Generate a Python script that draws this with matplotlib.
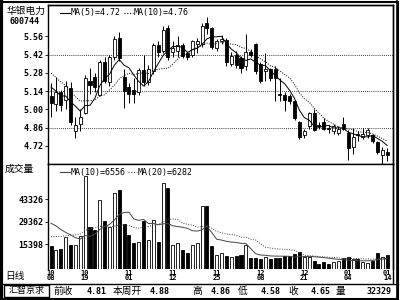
import matplotlib
matplotlib.use('Agg')
import matplotlib.pyplot as plt
import matplotlib.transforms as mtransforms
import numpy as np
import pandas as pd

# 华银电力 600744, daily bars 2010-10-08 .. 2011-01-14
opens = [5.10, 5.04, 5.13, 5.07, 5.16, 4.83, 4.89, 4.97, 5.22, 5.25,
         5.11, 5.36, 5.21, 5.40, 5.55, 5.25, 5.17, 5.15, 5.13, 5.30,
         5.21, 5.29, 5.49, 5.45, 5.62, 5.44, 5.45, 5.49, 5.43, 5.42,
         5.50, 5.50, 5.66, 5.62, 5.47, 5.52, 5.53, 5.35, 5.42, 5.39,
         5.33, 5.44, 5.50, 5.35, 5.29, 5.31, 5.31, 5.12, 5.11, 5.10,
         5.06, 4.90, 4.80, 4.87, 4.97, 4.88, 4.90, 4.86, 4.83, 4.82,
         4.89, 4.82, 4.71, 4.81, 4.79, 4.80, 4.80, 4.75, 4.65, 4.67]
highs = [5.20, 5.25, 5.15, 5.22, 5.21, 4.94, 5.00, 5.26, 5.32, 5.28,
         5.38, 5.40, 5.42, 5.56, 5.59, 5.31, 5.20, 5.24, 5.32, 5.42,
         5.34, 5.51, 5.52, 5.64, 5.65, 5.52, 5.56, 5.51, 5.45, 5.53,
         5.55, 5.66, 5.71, 5.63, 5.54, 5.57, 5.55, 5.44, 5.45, 5.41,
         5.58, 5.46, 5.51, 5.36, 5.43, 5.32, 5.33, 5.24, 5.13, 5.12,
         5.07, 4.91, 4.85, 4.98, 5.00, 4.90, 4.93, 4.88, 4.89, 4.87,
         4.94, 4.84, 4.86, 4.83, 4.86, 4.86, 4.81, 4.76, 4.71, 4.70]
lows = [4.94, 4.99, 4.99, 5.00, 4.88, 4.78, 4.83, 4.96, 5.12, 5.13,
        5.10, 5.20, 5.18, 5.38, 5.37, 5.01, 5.05, 5.05, 5.11, 5.18,
        5.19, 5.27, 5.40, 5.43, 5.38, 5.40, 5.40, 5.39, 5.38, 5.40,
        5.43, 5.48, 5.58, 5.46, 5.45, 5.50, 5.33, 5.33, 5.32, 5.28,
        5.30, 5.40, 5.27, 5.20, 5.22, 5.22, 5.06, 5.06, 4.99, 5.04,
        4.92, 4.77, 4.78, 4.85, 4.83, 4.85, 4.84, 4.82, 4.81, 4.80,
        4.84, 4.61, 4.66, 4.76, 4.77, 4.78, 4.74, 4.66, 4.58, 4.60]
closes = [5.05, 5.13, 5.03, 5.18, 4.90, 4.88, 4.94, 5.24, 5.19, 5.17,
          5.36, 5.22, 5.40, 5.54, 5.39, 5.14, 5.12, 5.12, 5.30, 5.21,
          5.31, 5.49, 5.44, 5.61, 5.40, 5.47, 5.49, 5.41, 5.40, 5.52,
          5.52, 5.64, 5.62, 5.48, 5.52, 5.54, 5.36, 5.41, 5.34, 5.32,
          5.44, 5.42, 5.29, 5.22, 5.31, 5.24, 5.24, 5.11, 5.07, 5.06,
          4.93, 4.79, 4.83, 4.97, 4.84, 4.87, 4.85, 4.85, 4.87, 4.85,
          4.85, 4.70, 4.79, 4.80, 4.81, 4.84, 4.76, 4.67, 4.69, 4.65]
volumes = [14100, 12000, 12500, 20000, 14600, 15200, 20400, 57600, 25800, 24100,
           43100, 29700, 26000, 47500, 49000, 28200, 21400, 16000, 17000, 29700,
           18000, 30700, 17000, 53500, 50400, 15000, 16000, 12100, 10200, 14600,
           16000, 39000, 39000, 14000, 9000, 10000, 8000, 7500, 8000, 9000,
           15200, 7000, 7000, 6000, 7500, 6000, 7000, 7000, 8000, 8000,
           9500, 10500, 7500, 7500, 5200, 3300, 4400, 3000, 4200, 4980,
           6800, 7200, 6500, 6000, 4200, 3800, 5200, 9800, 7300, 8760]

# sessions before 10-08, only needed to start the moving averages
pre_closes = [5.45, 5.40, 5.42, 5.35, 5.30, 5.28, 5.22, 5.18, 5.12]
pre_volumes = [9000, 11000, 10500, 8500, 12000, 9500, 10000, 11500, 10000,
               24000, 28000, 35000, 38000, 30000, 33000, 29000, 36000, 29900, 11000]

tick_pos = [0, 7, 16, 25, 34, 43, 52, 61, 69]
tick_labels = ['10\n08', '10\n19', '11\n01', '11\n12', '11\n25',
               '12\n08', '12\n21', '01\n04', '01\n14']
price_ticks = [4.72, 4.86, 5.00, 5.14, 5.28, 5.42, 5.56]
price_grid = [4.86, 5.14, 5.42]
vol_ticks = [15398, 29362, 43326]

status_labels = ['前收', '本周开', '高', '低', '收', '量']
status_values = ['4.81', '4.88', '4.86', '4.58', '4.65', '32329']

MONO = 'DejaVu Sans Mono'
CJK = ['Noto Sans CJK SC', 'DejaVu Sans']
DOT = (0, (1, 1.5))

n = len(closes)
x = np.arange(n)
o = np.array(opens)
c = np.array(closes)
up = c >= o
fill = np.where(up, 'white', 'black')

all_c = pd.Series(pre_closes + closes)
ma5 = all_c.rolling(5).mean().values[-n:]
ma10 = all_c.rolling(10).mean().values[-n:]
all_v = pd.Series(pre_volumes[-19:] + volumes)
vma10 = all_v.rolling(10).mean().values[-n:]
vma20 = all_v.rolling(20).mean().values[-n:]

fig = plt.figure(figsize=(4, 3), dpi=100)
fig.patch.set_facecolor('white')

L, R = 48, 393
ax_p = fig.add_axes([L / 400, 1 - 164 / 300, (R - L) / 400, (164 - 5) / 300])
ax_v = fig.add_axes([L / 400, 1 - 269 / 300, (R - L) / 400, (269 - 164) / 300])

# price panel
ax_p.vlines(x, lows, highs, color='black', lw=0.7, zorder=2)
body_h = np.maximum(np.abs(c - o), 0.006)
ax_p.bar(x, body_h, bottom=np.minimum(o, c), width=0.62, color=fill,
         edgecolor='black', lw=0.6, zorder=3)
ax_p.plot(x, ma5, color='black', lw=0.7, zorder=4)
ax_p.plot(x, ma10, color='black', lw=0.7, ls=DOT, zorder=4)
for g in price_grid:
    ax_p.axhline(g, color='black', lw=0.6, ls=DOT, zorder=1)
ax_p.set_xlim(-0.62, 70.2)
ax_p.set_ylim(4.58, 5.80)
ax_p.set_xticks([])
ax_p.set_yticks(price_ticks, [f'{t:.2f}' for t in price_ticks])

# volume panel
ax_v.bar(x, volumes, width=0.62, color=fill, edgecolor='black', lw=0.6, zorder=3)
ax_v.plot(x, vma10, color='#444444', lw=0.7, zorder=4)
ax_v.plot(x, vma20, color='#444444', lw=0.7, ls=DOT, zorder=4)
ax_v.set_xlim(-0.62, 70.2)
ax_v.set_ylim(0, 65200)
ax_v.set_yticks(vol_ticks, [str(t) for t in vol_ticks])
ax_v.set_xticks([])
ax_v.spines['bottom'].set_visible(False)

# date labels under the volume bars
date_tr = mtransforms.blended_transform_factory(ax_v.transData, ax_v.transAxes)
for p, lab in zip(tick_pos, tick_labels):
    ax_v.text(p, -0.005, lab, transform=date_tr, ha='center', va='top',
              family=MONO, fontweight='bold', fontsize=5, linespacing=0.8,
              clip_on=False)

for ax in (ax_p, ax_v):
    for s in ax.spines.values():
        s.set_linewidth(1.0)
    ax.tick_params(axis='y', length=2, width=0.6, pad=1.5, labelsize=6)
    for t in ax.get_yticklabels():
        t.set_fontfamily(MONO)
        t.set_fontweight('bold')

# overlay in pixel coordinates for frame, labels, legends and status bar
ov = fig.add_axes([0, 0, 1, 1], zorder=10)
ov.set_xlim(0, 400)
ov.set_ylim(300, 0)
ov.axis('off')
ov.patch.set_alpha(0)

ov.add_patch(plt.Rectangle((1, 1.5), 397, 297, fill=False, lw=1.5, color='black'))
ov.plot([1, 1], [0, 300], color='black', lw=3)
ov.plot([396.5, 396.5], [1, 299], color='black', lw=1.2)
ov.plot([L, R], [5, 5], color='black', lw=1.0)
ov.plot([R, R], [5, 283], color='black', lw=1.0)
ov.plot([0, 398], [283.5, 283.5], color='black', lw=1.0)
ov.add_patch(plt.Rectangle((4, 285), 45, 12, fill=False, lw=1.0, color='black'))

ov.text(26, 11, '华银电力', family=CJK, fontsize=7, ha='center', va='center')
ov.text(25, 22, '600744', family=MONO, fontweight='bold', fontsize=6, ha='center', va='center')
ov.text(5, 169, '成交量', family=CJK, fontsize=7, ha='left', va='center')
ov.text(5, 276, '日线', family=CJK, fontsize=7, ha='left', va='center')

# legends
ov.plot([60, 70], [13, 13], color='black', lw=0.8)
ov.text(71, 13, 'MA(5)=4.72', family=MONO, fontsize=6, ha='left', va='center')
ov.plot([124, 133], [13, 13], color='black', lw=0.8, ls=DOT)
ov.text(134, 13, 'MA(10)=4.76', family=MONO, fontsize=6, ha='left', va='center')
ov.plot([60, 70], [172, 172], color='#444444', lw=0.8)
ov.text(71, 172, 'MA(10)=6556', family=MONO, fontsize=6, ha='left', va='center')
ov.plot([128, 137], [172, 172], color='#444444', lw=0.8, ls=DOT)
ov.text(138, 172, 'MA(20)=6282', family=MONO, fontsize=6, ha='left', va='center')

# status bar
ov.text(26.5, 291, '汇智京求', family=CJK, fontsize=6.5, ha='center', va='center')
label_x = [53, 113, 192, 238, 288, 336]
value_x = [107, 170, 231, 281, 331, 392]
for lab, lx, val, vx in zip(status_labels, label_x, status_values, value_x):
    ov.text(lx, 291, lab, family=CJK, fontsize=7, ha='left', va='center')
    ov.text(vx, 291, val, family=MONO, fontweight='bold', fontsize=6, ha='right', va='center')

fig.savefig('out.png', dpi=100, facecolor='white')
